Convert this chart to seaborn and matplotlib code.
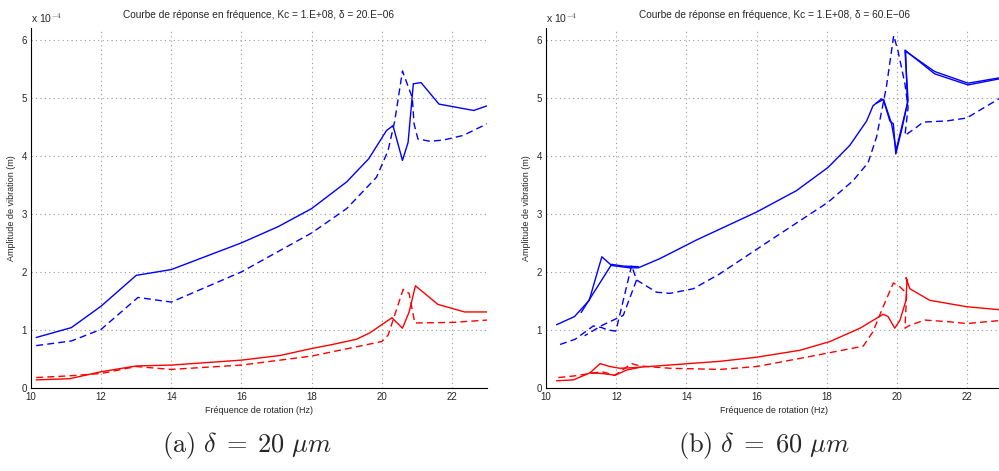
import matplotlib
matplotlib.use('Agg')
import matplotlib.pyplot as plt
import seaborn as sns

# amplitudes in units of 1e-4 m

# (a) delta = 20 um
a_x_blue_solid = [10.15, 11.15, 12.0, 13.0, 14.0, 16.0, 17.05, 18.0, 19.0, 19.63, 20.13, 20.32,
                  20.59, 20.75, 20.9, 21.12, 21.63, 22.62, 23.0]
a_y_blue_solid = [0.87, 1.04, 1.41, 1.94, 2.04, 2.5, 2.78, 3.09, 3.55, 3.95, 4.43, 4.52,
                  3.92, 4.23, 5.24, 5.26, 4.89, 4.78, 4.86]
a_x_blue_dash = [10.15, 11.15, 12.0, 13.05, 14.0, 16.0, 18.0, 19.0, 19.85, 20.18, 20.37, 20.59,
                 20.87, 20.92, 21.03, 21.37, 21.75, 22.32, 23.0]
a_y_blue_dash = [0.73, 0.81, 1.01, 1.56, 1.48, 2.0, 2.67, 3.09, 3.63, 4.09, 4.6, 5.46,
                 5.0, 4.55, 4.29, 4.25, 4.27, 4.35, 4.55]
a_x_red_solid = [10.15, 11.1, 12.0, 13.0, 14.0, 16.0, 17.1, 18.0, 18.6, 19.28, 19.66, 20.29, 20.59,
                 20.78, 20.96, 21.18, 21.6, 22.36, 23.0]
a_y_red_solid = [0.14, 0.16, 0.28, 0.38, 0.395, 0.48, 0.56, 0.68, 0.75, 0.84, 0.95, 1.21, 1.03,
                 1.31, 1.76, 1.65, 1.44, 1.31, 1.31]
a_x_red_dash = [10.15, 11.1, 12.0, 13.0, 14.0, 16.0, 18.0, 20.0, 20.18, 20.61, 20.78, 20.94,
                22.03, 23.0]
a_y_red_dash = [0.18, 0.21, 0.25, 0.37, 0.32, 0.395, 0.55, 0.80, 0.91, 1.70, 1.63, 1.12,
                1.13, 1.17]

# (b) delta = 60 um, up and down sweeps
b_x_blue_solid = [10.3, 10.81, 11.23, 11.59, 11.87, 12.39, 12.63, 13.25, 14.29, 16.0, 17.14, 18.04,
                  18.66, 19.14, 19.32, 19.56, 19.62, 19.8, 19.9, 19.97, 20.13, 20.32, 20.23,
                  21.08, 22.03, 22.88, 23.0]
b_y_blue_solid = [1.09, 1.23, 1.51, 2.26, 2.11, 2.07, 2.07, 2.23, 2.55, 3.03, 3.40, 3.80,
                  4.18, 4.6, 4.86, 4.98, 4.96, 4.6, 4.55, 4.03, 4.43, 4.95, 5.82,
                  5.41, 5.22, 5.32, 5.34]
b_x_blue_solid_2 = [23.0, 22.03, 21.08, 20.25, 20.3, 20.1, 19.98, 19.85, 19.62, 19.4]
b_y_blue_solid_2 = [5.35, 5.25, 5.45, 5.8, 4.9, 4.4, 4.1, 4.55, 4.97, 4.9]
b_x_blue_solid_3 = [12.63, 12.2, 11.87, 11.0]
b_y_blue_solid_3 = [2.09, 2.1, 2.13, 1.30]
b_x_blue_dash = [10.4, 10.83, 11.35, 11.59, 11.75, 11.99, 12.44, 12.58, 13.15, 13.53, 14.2, 14.96,
                 16.43, 18.04, 18.75, 19.18, 19.42, 19.7, 19.91, 20.03, 20.23, 20.32, 20.23,
                 20.56, 20.75, 21.42, 21.99, 22.88, 23.0]
b_y_blue_dash = [0.75, 0.84, 1.07, 1.04, 1.0, 0.98, 2.11, 1.86, 1.65, 1.63, 1.71, 1.97,
                 2.56, 3.20, 3.57, 3.88, 4.32, 5.18, 6.07, 5.81, 5.24, 4.83, 4.35,
                 4.49, 4.58, 4.6, 4.65, 4.97, 5.02]
b_x_blue_dash_2 = [12.58, 12.2, 11.6, 11.1]
b_y_blue_dash_2 = [1.86, 1.25, 1.08, 0.9]
b_x_red_solid = [10.3, 10.78, 11.25, 11.54, 11.82, 12.1, 12.49, 14.96, 16.0, 17.24, 18.09, 18.95,
                 19.61, 19.75, 19.94, 20.09, 20.26, 20.29, 20.26, 20.37, 20.94, 21.99, 22.9, 23.0]
b_y_red_solid = [0.125, 0.14, 0.26, 0.42, 0.37, 0.34, 0.35, 0.46, 0.53, 0.65, 0.80, 1.03,
                 1.27, 1.23, 1.03, 1.17, 1.51, 1.86, 1.9, 1.71, 1.51, 1.40, 1.35, 1.35]
b_x_red_solid_2 = [11.25, 11.6, 11.97, 12.3, 12.7]
b_y_red_solid_2 = [0.26, 0.25, 0.22, 0.31, 0.36]
b_x_red_dash = [10.35, 10.83, 11.25, 11.59, 11.96, 12.44, 12.68, 13.53, 14.96, 16.0, 17.24, 19.04,
                19.32, 19.61, 19.9, 20.09, 20.28, 20.23, 20.37, 20.8, 21.51, 21.99, 22.9, 23.0]
b_y_red_dash = [0.18, 0.21, 0.25, 0.28, 0.22, 0.42, 0.38, 0.34, 0.32, 0.37, 0.51, 0.72,
                0.97, 1.40, 1.81, 1.74, 1.63, 1.03, 1.08, 1.17, 1.14, 1.11, 1.16, 1.16]

titles = ['Courbe de réponse en fréquence, Kc = 1.E+08, δ = 20.E−06',
          'Courbe de réponse en fréquence, Kc = 1.E+08, δ = 60.E−06']
captions = [r'$\mathrm{(a)}\ \delta\;=\;20\ \mu m$', r'$\mathrm{(b)}\ \delta\;=\;60\ \mu m$']

sns.set_style('white')
plt.rcParams['font.family'] = ['Liberation Sans', 'DejaVu Sans']
plt.rcParams['mathtext.fontset'] = 'cm'

fig = plt.figure(figsize=(9.99, 4.71), dpi=100)
ax_a = fig.add_axes([0.031, 0.1762, 0.4565, 0.7643])
ax_b = fig.add_axes([0.5466, 0.1762, 0.4565, 0.7643])

dash = (0, (5, 3))


def line(ax, x, y, color, ls='-'):
    sns.lineplot(x=x, y=y, ax=ax, sort=False, estimator=None, color=color,
                 linewidth=1.0, linestyle=ls)


line(ax_a, a_x_blue_solid, a_y_blue_solid, 'blue')
line(ax_a, a_x_blue_dash, a_y_blue_dash, 'blue', dash)
line(ax_a, a_x_red_solid, a_y_red_solid, 'red')
line(ax_a, a_x_red_dash, a_y_red_dash, 'red', dash)

line(ax_b, b_x_blue_solid, b_y_blue_solid, 'blue')
line(ax_b, b_x_blue_solid_2, b_y_blue_solid_2, 'blue')
line(ax_b, b_x_blue_solid_3, b_y_blue_solid_3, 'blue')
line(ax_b, b_x_blue_dash, b_y_blue_dash, 'blue', dash)
line(ax_b, b_x_blue_dash_2, b_y_blue_dash_2, 'blue', dash)
line(ax_b, b_x_red_solid, b_y_red_solid, 'red')
line(ax_b, b_x_red_solid_2, b_y_red_solid_2, 'red')
line(ax_b, b_x_red_dash, b_y_red_dash, 'red', dash)

for i, ax in enumerate([ax_a, ax_b]):
    ax.set_xlim(10, 23)
    ax.set_ylim(0, 6.2)
    ax.set_xticks([10, 12, 14, 16, 18, 20, 22])
    ax.set_yticks([0, 1, 2, 3, 4, 5, 6])
    ax.grid(True, color='#999999', linestyle=(0, (1, 3)), linewidth=0.8)
    ax.tick_params(direction='in', length=3, width=0.6, labelsize=7, pad=3)
    for s in ['top', 'right']:
        ax.spines[s].set_visible(False)
    for s in ['left', 'bottom']:
        ax.spines[s].set_linewidth(0.8)
        ax.spines[s].set_color('black')
    ax.set_xlabel('Fréquence de rotation (Hz)', fontsize=6.5, labelpad=3)
    ax.set_ylabel('Amplitude de vibration (m)', fontsize=6.5, labelpad=4)
    ax.set_title(titles[i], fontsize=7.3, pad=7)
    ax.text(0.0, 1.008, r'x 10$^{-4}$', transform=ax.transAxes, fontsize=7.5,
            ha='left', va='bottom')

fig.text(0.247, 0.055, captions[0], fontsize=19, ha='center', va='center')
fig.text(0.765, 0.055, captions[1], fontsize=19, ha='center', va='center')

fig.savefig('out.png', dpi=100)
